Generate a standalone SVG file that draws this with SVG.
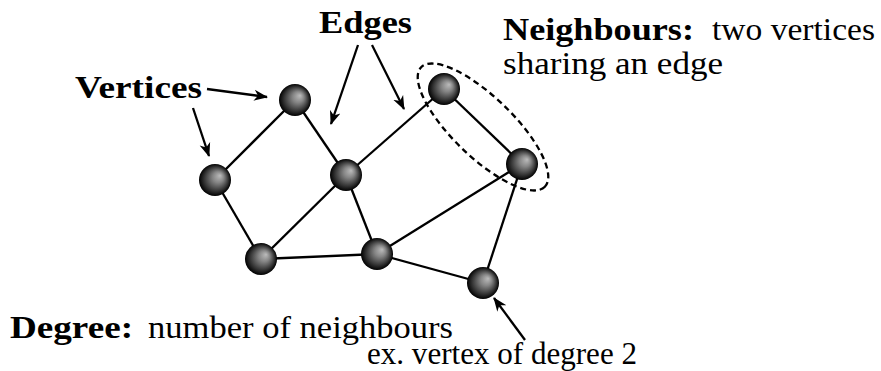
<svg xmlns="http://www.w3.org/2000/svg" width="881" height="371" viewBox="0 0 881 371">
<style>
.edge{stroke:#000;stroke-width:2.3;fill:none}
.arr{stroke:#000;stroke-width:2.3;fill:none;marker-end:url(#ah)}
.ball{fill:url(#bg)}
.t{font-family:"Liberation Serif","DejaVu Serif",serif;font-size:32px;fill:#000}
.b{font-weight:bold}
</style>
<defs>
<radialGradient id="bg" cx="0.5" cy="0.5" r="0.5" fx="0.66" fy="0.36">
<stop offset="0" stop-color="#bcbcbc"/>
<stop offset="0.35" stop-color="#858585"/>
<stop offset="0.75" stop-color="#353535"/>
<stop offset="1" stop-color="#000"/>
</radialGradient>
<marker id="ah" markerWidth="16" markerHeight="12" refX="13" refY="6" orient="auto" markerUnits="userSpaceOnUse">
<path d="M14,6 L0,0.5 L4,6 L0,11.5 Z" fill="#000"/>
</marker>
</defs>
<g id="connectors">
<line class="edge" x1="295" y1="100" x2="215" y2="180"/>
<line class="edge" x1="295" y1="100" x2="346" y2="175"/>
<line class="edge" x1="215" y1="180" x2="261" y2="259"/>
<line class="edge" x1="346" y1="175" x2="261" y2="259"/>
<line class="edge" x1="346" y1="175" x2="377" y2="254"/>
<line class="edge" x1="346" y1="175" x2="444" y2="89"/>
<line class="edge" x1="444" y1="89" x2="522" y2="164"/>
<line class="edge" x1="522" y1="164" x2="377" y2="254"/>
<line class="edge" x1="522" y1="164" x2="483" y2="283"/>
<line class="edge" x1="261" y1="259" x2="377" y2="254"/>
<line class="edge" x1="377" y1="254" x2="483" y2="283"/>
<line class="arr" x1="207" y1="89" x2="267" y2="97"/>
<line class="arr" x1="193" y1="108" x2="209" y2="156"/>
<line class="arr" x1="358" y1="45" x2="331" y2="124"/>
<line class="arr" x1="372" y1="45" x2="404" y2="109"/>
<line class="arr" x1="525" y1="340" x2="494" y2="298"/>
<ellipse cx="483" cy="127" rx="86" ry="30" transform="rotate(44 483 127)" fill="none" stroke="#000" stroke-width="2.3" stroke-dasharray="6,4"/>
</g>
<g id="vA"><circle class="ball" cx="295" cy="100" r="16"/></g>
<g id="vB"><circle class="ball" cx="215" cy="180" r="16"/></g>
<g id="vC"><circle class="ball" cx="346" cy="175" r="16"/></g>
<g id="vD"><circle class="ball" cx="444" cy="89" r="16"/></g>
<g id="vE"><circle class="ball" cx="522" cy="164" r="16"/></g>
<g id="vF"><circle class="ball" cx="261" cy="259" r="16"/></g>
<g id="vG"><circle class="ball" cx="377" cy="254" r="16"/></g>
<g id="vH"><circle class="ball" cx="483" cy="283" r="16"/></g>
<g id="labels">
<text class="t b" x="75" y="98" textLength="127" lengthAdjust="spacingAndGlyphs">Vertices</text>
<text class="t b" x="319" y="33" textLength="93" lengthAdjust="spacingAndGlyphs">Edges</text>
<text class="t b" x="503" y="40" textLength="191" lengthAdjust="spacingAndGlyphs">Neighbours:</text>
<text class="t" x="712" y="40" textLength="163" lengthAdjust="spacingAndGlyphs">two vertices</text>
<text class="t" x="503" y="74" textLength="220" lengthAdjust="spacingAndGlyphs">sharing an edge</text>
<text class="t b" x="10" y="338" textLength="123" lengthAdjust="spacingAndGlyphs">Degree:</text>
<text class="t" x="148" y="338" textLength="305" lengthAdjust="spacingAndGlyphs">number of neighbours</text>
<text class="t" x="367" y="364" font-size="29" textLength="270" lengthAdjust="spacingAndGlyphs">ex. vertex of degree 2</text>
</g>
</svg>
